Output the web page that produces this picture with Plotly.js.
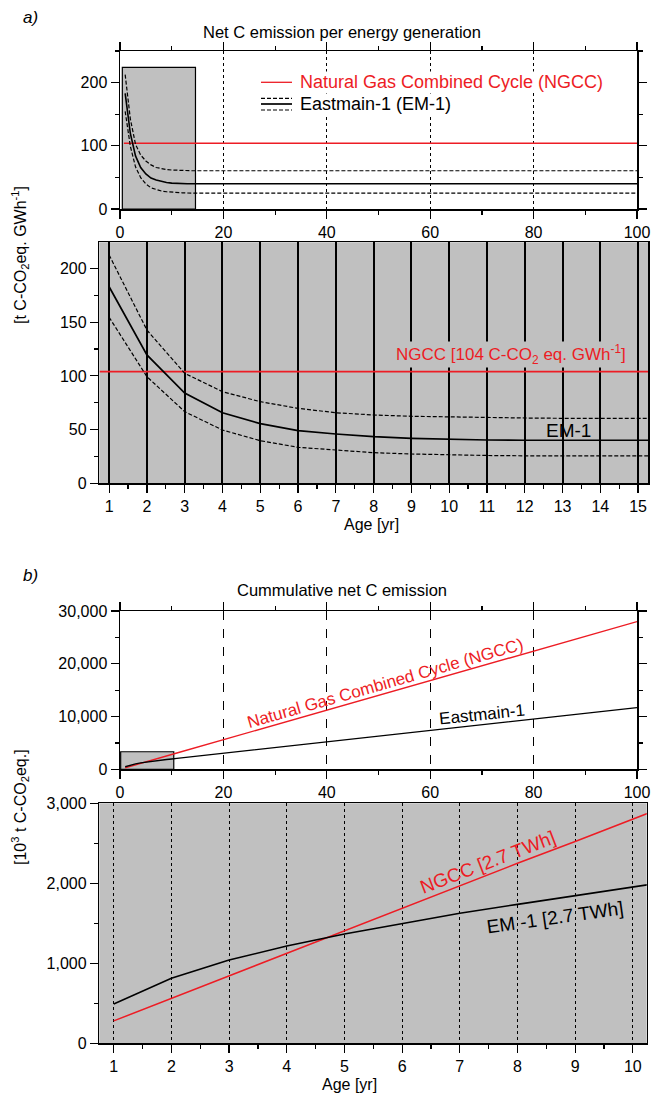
<!DOCTYPE html>
<html>
<head>
<meta charset="utf-8">
<script src="https://cdn.plot.ly/plotly-3.0.1.min.js"></script>
<style>html,body{margin:0;padding:0;background:#fff;}#chart{width:652px;height:1096px;}</style>
</head>
<body>
<div id="chart"></div>
<script>
// ---------- data ----------
// a) Net C emission per energy generation [t C-CO2 eq. GWh-1]
const ageA = [1,2,3,4,5,6,7,8,9,10,11,12,13,14,15,100];
const em1Rate      = [183,119.5,84,65.7,55.5,49,45.9,43.4,41.9,41,40.3,40.1,40,40,40,40];
const em1RateUpper = [212.6,142.7,102.4,85.3,76,69.8,65.7,63.6,62.4,61.7,61.1,60.8,60.5,60.5,60.5,60.5];
const em1RateLower = [154.6,99.3,66.7,49.6,39.7,33.5,31,28.5,27.3,26.4,25.9,25.6,25.3,25,25,25];
const ngccAgeA  = [0.75,100];
const ngccRate  = [104,104];

// b) Cumulative net C emission [10^3 t C-CO2 eq.]
const ageB     = [1,2,3,4,5,6,7,8,9,10,11,100];
const ngccCum  = [280,562,840,1125,1406,1687,1966,2250,2522,2800,3090,28000];
const em1Cum   = [491,812,1041,1216,1366,1500,1625,1737,1854,1966,2075,11680];

// tick / label texts
const titleA = 'Net C emission per energy generation';
const titleB = 'Cummulative net C emission';
const yTitleA = '[t C-CO<sub>2</sub>eq. GWh<sup>-1</sup>]';
const yTitleB = '[10<sup>3</sup> t C-CO<sub>2</sub>eq.]';
const legNGCC = 'Natural Gas Combined Cycle (NGCC)';
const legEM1 = 'Eastmain-1 (EM-1)';

// ---------- styling ----------
const W = 652, H = 1096;
const px = v => v / W;
const py = v => 1 - v / H;
const RED = 'rgb(237,28,36)';
const GREY = '#c0c0c0';
const FONT = 'Liberation Sans, Arial, Helvetica, sans-serif';

function axis(o) {
  return Object.assign({
    showline: true, linecolor: 'black', linewidth: 1.5,
    ticks: 'outside', ticklen: 8, tickwidth: 1.2, tickcolor: 'black',
    tickfont: {family: FONT, size: 16, color: 'black'},
    zeroline: false, showgrid: false, fixedrange: true
  }, o);
}
function minor(d) {
  return {dtick: d, ticklen: 4, tickcolor: 'black', ticks: 'outside', showgrid: false};
}

const traces = [
  // top a
  {x: ngccAgeA, y: ngccRate, xaxis: 'x', yaxis: 'y', mode: 'lines', line: {color: RED, width: 1.3}},
  {x: ageA, y: em1RateUpper, xaxis: 'x', yaxis: 'y', mode: 'lines', line: {color: 'black', width: 1.2, dash: '4px,2px'}},
  {x: ageA, y: em1RateLower, xaxis: 'x', yaxis: 'y', mode: 'lines', line: {color: 'black', width: 1.2, dash: '4px,2px'}},
  {x: ageA, y: em1Rate, xaxis: 'x', yaxis: 'y', mode: 'lines', line: {color: 'black', width: 1.6}},
  // lower a
  {x: ngccAgeA, y: ngccRate, xaxis: 'x2', yaxis: 'y2', mode: 'lines', line: {color: RED, width: 1.6}},
  {x: ageA, y: em1RateUpper, xaxis: 'x2', yaxis: 'y2', mode: 'lines', line: {color: 'black', width: 1.2, dash: '4px,2px'}},
  {x: ageA, y: em1RateLower, xaxis: 'x2', yaxis: 'y2', mode: 'lines', line: {color: 'black', width: 1.2, dash: '4px,2px'}},
  {x: ageA, y: em1Rate, xaxis: 'x2', yaxis: 'y2', mode: 'lines', line: {color: 'black', width: 1.7}},
  // top b
  {x: ageB, y: ngccCum, xaxis: 'x3', yaxis: 'y3', mode: 'lines', line: {color: RED, width: 1.4}},
  {x: ageB, y: em1Cum, xaxis: 'x3', yaxis: 'y3', mode: 'lines', line: {color: 'black', width: 1.4}},
  // lower b
  {x: ageB, y: ngccCum, xaxis: 'x4', yaxis: 'y4', mode: 'lines', line: {color: RED, width: 1.5}},
  {x: ageB, y: em1Cum, xaxis: 'x4', yaxis: 'y4', mode: 'lines', line: {color: 'black', width: 1.6}}
].map(t => Object.assign(t, {showlegend: false, hoverinfo: 'skip', cliponaxis: true}));

function note(text, x, y, extra) {
  return Object.assign({text: text, x: px(x), y: py(y), xref: 'paper', yref: 'paper',
    xanchor: 'center', yanchor: 'middle', showarrow: false, font: {size: 16, color: 'black'}}, extra || {});
}

const layout = {
  width: W, height: H,
  margin: {l: 0, r: 0, t: 0, b: 0},
  paper_bgcolor: 'white', plot_bgcolor: 'rgba(0,0,0,0)',
  showlegend: false,
  font: {family: FONT, color: 'black'},
  // top a
  xaxis: axis({domain: [px(120), px(637)], anchor: 'y', range: [0, 100], tick0: 0, dtick: 20,
    minor: minor(10), mirror: 'ticks',
    showgrid: true, gridcolor: 'black', griddash: 'dot', gridwidth: 1}),
  yaxis: axis({domain: [py(209), py(51)], anchor: 'x', range: [0, 250], tick0: 0, dtick: 100,
    minor: minor(50), mirror: 'ticks'}),
  // lower a
  xaxis2: axis({domain: [px(99.3), px(648.3)], anchor: 'y2', range: [0.74, 15.27], tick0: 1, dtick: 1,
    minor: minor(0.5), mirror: true,
    showgrid: true, gridcolor: 'black', gridwidth: 2}),
  yaxis2: axis({domain: [py(483.3), py(242.3)], anchor: 'x2', range: [0, 224.4], tick0: 0, dtick: 50,
    minor: minor(25), mirror: true}),
  // top b
  xaxis3: axis({domain: [px(120), px(637)], anchor: 'y3', range: [0, 100], tick0: 0, dtick: 20,
    minor: minor(10), mirror: 'ticks',
    showgrid: true, gridcolor: 'black', griddash: 'dash', gridwidth: 1}),
  yaxis3: axis({domain: [py(769.3), py(611)], anchor: 'x3', range: [0, 30000], tick0: 0, dtick: 10000,
    tickformat: ',d', minor: minor(5000), mirror: 'ticks'}),
  // lower b
  xaxis4: axis({domain: [px(99.3), px(646.7)], anchor: 'y4', range: [0.75, 10.24], tick0: 1, dtick: 1,
    minor: minor(0.5), mirror: true,
    showgrid: true, gridcolor: 'black', griddash: 'dot', gridwidth: 1}),
  yaxis4: axis({domain: [py(1043.3), py(803.3)], anchor: 'x4', range: [0, 3000], tick0: 0, dtick: 1000,
    tickformat: ',d', minor: minor(500), mirror: true}),
  shapes: [
    // grey backgrounds of the zoomed panels
    {type: 'rect', xref: 'x2 domain', yref: 'y2 domain', x0: 0, x1: 1, y0: 0, y1: 1,
      fillcolor: GREY, line: {width: 0}, layer: 'below'},
    {type: 'rect', xref: 'x4 domain', yref: 'y4 domain', x0: 0, x1: 1, y0: 0, y1: 1,
      fillcolor: GREY, line: {width: 0}, layer: 'below'},
    // inset frames in overview panels
    {type: 'rect', xref: 'x', yref: 'y', x0: 0.45, x1: 14.6, y0: 0, y1: 224,
      fillcolor: GREY, line: {width: 1.2, color: 'black'}, layer: 'below'},
    {type: 'rect', xref: 'x3', yref: 'y3', x0: 0.13, x1: 10.4, y0: 0, y1: 3330,
      fillcolor: GREY, line: {width: 1.2, color: 'black'}, layer: 'below'},
    // legend samples (top a)
    {type: 'line', xref: 'paper', yref: 'paper', x0: px(261), x1: px(292), y0: py(82.3), y1: py(82.3),
      line: {color: RED, width: 1.3}},
    {type: 'line', xref: 'paper', yref: 'paper', x0: px(261), x1: px(292), y0: py(98.3), y1: py(98.3),
      line: {color: 'black', width: 1.2, dash: '4px,2px'}},
    {type: 'line', xref: 'paper', yref: 'paper', x0: px(261), x1: px(292), y0: py(104), y1: py(104),
      line: {color: 'black', width: 1.7}},
    {type: 'line', xref: 'paper', yref: 'paper', x0: px(261), x1: px(292), y0: py(110), y1: py(110),
      line: {color: 'black', width: 1.2, dash: '4px,2px'}}
  ],
  annotations: [
    note('<i>a)</i>', 30, 17, {font: {size: 17}}),
    note('<i>b)</i>', 30, 575, {font: {size: 17}}),
    note(titleA, 342, 32, {font: {size: 16.5}}),
    note(titleB, 342, 590, {font: {size: 16.5}}),
    note(yTitleA, 20, 255, {textangle: -90}),
    note(yTitleB, 20, 807, {textangle: -90}),
    note('Age [yr]', 371, 524),
    note('Age [yr]', 349, 1084),
    // legend texts (top a)
    note(legNGCC, 299, 82, {xanchor: 'left', font: {size: 18, color: RED}, bgcolor: 'white', borderpad: 0}),
    note(legEM1, 299, 104, {xanchor: 'left', font: {size: 18, color: 'black'}, bgcolor: 'white', borderpad: 0}),
    // lower a labels
    note('NGCC [104 C-CO<sub>2</sub> eq. GWh<sup>-1</sup>]', 511, 354,
      {font: {size: 17, color: RED}, bgcolor: GREY, borderpad: 0}),
    note('EM-1', 568, 430, {font: {size: 19, color: 'black'}}),
    // top b labels
    note('Natural Gas Combined Cycle (NGCC)', 385, 683, {textangle: -16, font: {size: 17, color: RED}}),
    note('Eastmain-1', 482, 714, {textangle: -6, font: {size: 17, color: 'black'}}),
    // lower b labels
    note('NGCC [2.7 TWh]', 487, 862, {textangle: -21, font: {size: 19, color: RED}}),
    note('EM -1 [2.7 TWh]', 555, 917, {textangle: -8, font: {size: 19, color: 'black'}})
  ]
};

Plotly.newPlot('chart', traces, layout, {staticPlot: true, displayModeBar: false});
</script>
</body>
</html>
